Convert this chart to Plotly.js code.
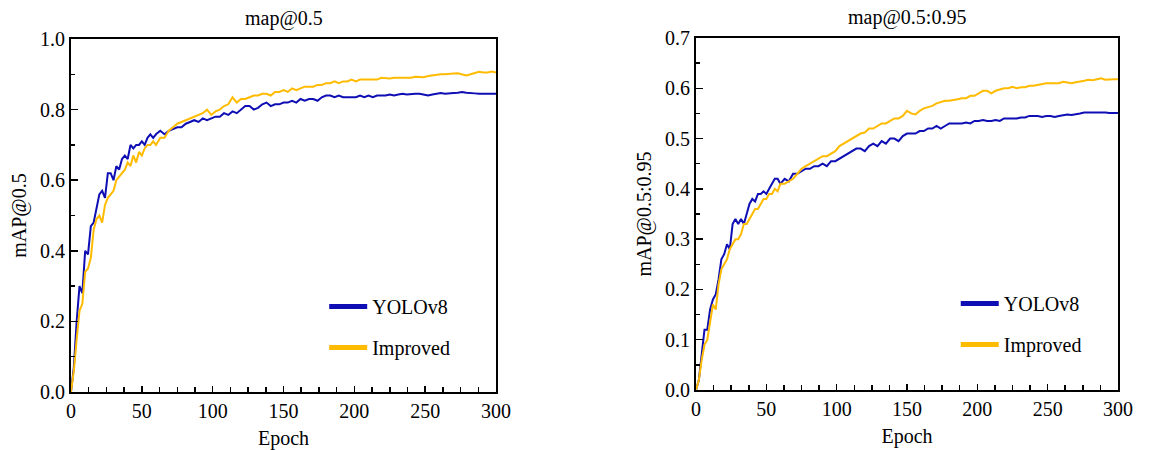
<!DOCTYPE html>
<html>
<head>
<meta charset="utf-8">
<script src="https://cdn.plot.ly/plotly-3.0.1.min.js"></script>
<style>html,body{margin:0;padding:0;background:#fff;}#chart{width:1162px;height:450px;}</style>
</head>
<body>
<div id="chart"></div>
<script>
// Epochs
const epochs = [0,2,4,6,8,10,12,14,16,18,20,22,24,26,28,30,32,34,36,38,40,42,44,46,48,50,52,54,56,58,60,
  63,66,69,72,75,78,81,84,87,90,93,96,99,102,105,108,111,114,117,120,123,126,129,132,135,138,141,144,147,150,
  153,156,159,162,165,168,171,174,177,180,183,186,189,192,195,198,201,204,207,210,213,216,219,222,225,228,
  231,234,237,240,243,246,249,252,255,258,261,264,267,270,273,276,279,282,285,288,291,294,297,300];

// mAP@0.5
const map50_yolo = [0,0.07,0.20,0.30,0.28,0.40,0.39,0.47,0.48,0.52,0.56,0.57,0.55,0.62,0.62,0.60,0.64,0.63,0.66,0.67,0.66,0.70,0.69,0.70,0.70,0.71,0.70,0.72,0.73,0.72,0.73,
  0.74,0.73,0.74,0.745,0.75,0.75,0.76,0.765,0.77,0.765,0.775,0.77,0.775,0.78,0.78,0.79,0.785,0.795,0.79,0.80,
  0.81,0.81,0.80,0.805,0.815,0.82,0.81,0.815,0.815,0.82,0.82,0.825,0.82,0.83,0.825,0.83,0.83,0.825,0.835,0.84,
  0.84,0.835,0.84,0.835,0.835,0.835,0.835,0.84,0.835,0.84,0.835,0.84,0.84,0.84,0.843,0.84,0.843,0.845,0.843,0.845,
  0.845,0.845,0.843,0.84,0.843,0.845,0.847,0.845,0.845,0.847,0.848,0.85,0.848,0.846,0.846,0.845,0.845,0.845,0.845,0.845];
const map50_impr = [0,0.06,0.15,0.23,0.25,0.34,0.35,0.38,0.46,0.49,0.50,0.48,0.53,0.55,0.56,0.57,0.60,0.61,0.62,0.63,0.65,0.64,0.67,0.65,0.68,0.67,0.69,0.70,0.70,0.71,0.70,
  0.72,0.72,0.74,0.75,0.76,0.765,0.77,0.775,0.78,0.785,0.79,0.80,0.785,0.795,0.80,0.81,0.815,0.835,0.82,0.83,
  0.83,0.835,0.84,0.84,0.845,0.845,0.84,0.85,0.85,0.855,0.85,0.86,0.855,0.86,0.865,0.865,0.865,0.87,0.87,0.875,
  0.875,0.88,0.875,0.88,0.88,0.885,0.88,0.885,0.885,0.885,0.885,0.885,0.89,0.888,0.888,0.89,0.89,0.89,0.892,0.89,
  0.893,0.893,0.892,0.895,0.897,0.90,0.90,0.90,0.902,0.902,0.903,0.90,0.897,0.90,0.903,0.907,0.905,0.905,0.908,0.905];

// mAP@0.5:0.95
const map5095_yolo = [0,0.02,0.07,0.12,0.12,0.16,0.18,0.19,0.22,0.26,0.27,0.29,0.28,0.33,0.34,0.33,0.34,0.33,0.35,0.37,0.38,0.375,0.39,0.39,0.395,0.39,0.40,0.41,0.42,0.42,0.41,
  0.42,0.415,0.43,0.43,0.435,0.44,0.44,0.445,0.445,0.45,0.445,0.455,0.455,0.46,0.465,0.47,0.475,0.48,0.48,0.475,
  0.485,0.49,0.485,0.495,0.49,0.50,0.50,0.495,0.505,0.51,0.51,0.51,0.515,0.515,0.52,0.52,0.525,0.52,0.525,0.53,
  0.53,0.53,0.53,0.532,0.53,0.535,0.535,0.537,0.535,0.535,0.537,0.535,0.54,0.54,0.54,0.54,0.542,0.542,0.545,0.545,
  0.545,0.543,0.545,0.545,0.543,0.545,0.547,0.548,0.547,0.548,0.55,0.552,0.552,0.552,0.553,0.553,0.552,0.551,0.551,0.551];
const map5095_impr = [0,0.02,0.06,0.09,0.10,0.14,0.17,0.16,0.21,0.24,0.25,0.26,0.28,0.29,0.30,0.30,0.31,0.33,0.33,0.34,0.35,0.36,0.36,0.37,0.38,0.38,0.39,0.39,0.40,0.395,0.41,
  0.41,0.415,0.42,0.43,0.44,0.445,0.45,0.455,0.46,0.465,0.465,0.47,0.475,0.485,0.49,0.495,0.50,0.505,0.51,0.512,
  0.52,0.52,0.525,0.53,0.53,0.535,0.54,0.54,0.545,0.555,0.55,0.548,0.555,0.56,0.562,0.565,0.57,0.572,0.575,0.575,
  0.576,0.578,0.58,0.58,0.585,0.585,0.59,0.595,0.595,0.59,0.595,0.597,0.60,0.60,0.603,0.60,0.602,0.602,0.605,0.605,
  0.607,0.608,0.61,0.61,0.61,0.61,0.613,0.612,0.61,0.612,0.613,0.615,0.617,0.616,0.618,0.62,0.617,0.618,0.618,0.618];

const seriesNames = ['YOLOv8', 'Improved'];
const colors = ['#0e0eb4', '#ffbb00'];
const panelTitles = ['map@0.5', 'map@0.5:0.95'];
const yTitles = ['mAP@0.5', 'mAP@0.5:0.95'];

const FONT = 'Liberation Serif, Times New Roman, serif';

function line(y, i, xa, ya) {
  return {x: epochs, y: y, type: 'scatter', mode: 'lines', xaxis: xa, yaxis: ya,
    line: {color: colors[i], width: 2}, showlegend: false, hoverinfo: 'skip'};
}
function legendItem(i, leg) {
  return {x: [null], y: [null], type: 'scatter', mode: 'lines', name: seriesNames[i],
    legend: leg, legendgroup: leg + i, line: {color: colors[i], width: 5}};
}

const data = [
  line(map50_yolo, 0, 'x', 'y'), line(map50_impr, 1, 'x', 'y'),
  line(map5095_yolo, 0, 'x2', 'y2'), line(map5095_impr, 1, 'x2', 'y2'),
  legendItem(0, 'legend'), legendItem(1, 'legend'),
  legendItem(0, 'legend2'), legendItem(1, 'legend2')
];

function xax(domain, anchor) {
  return {domain: domain, anchor: anchor, range: [0, 300], dtick: 50, tick0: 0,
    ticks: 'inside', ticklen: 6, tickwidth: 1.5, tickcolor: '#000',
    minor: {dtick: 12.5, ticks: 'inside', ticklen: 5, tickwidth: 1.5, tickcolor: '#000'},
    showline: true, linewidth: 2, linecolor: '#000', mirror: true, showgrid: false, zeroline: false,
    tickfont: {family: FONT, size: 20, color: '#000'},
    title: {text: 'Epoch', font: {family: FONT, size: 20, color: '#000'}, standoff: 10}};
}
function yax(domain, anchor, range, dtick, minor, title) {
  return {domain: domain, anchor: anchor, range: range, dtick: dtick, tick0: 0,
    tickformat: '.1f',
    ticks: 'inside', ticklen: 7, tickwidth: 1.5, tickcolor: '#000',
    minor: {dtick: minor, ticks: 'inside', ticklen: 4, tickwidth: 1.5, tickcolor: '#000'},
    showline: true, linewidth: 2, linecolor: '#000', mirror: true, showgrid: false, zeroline: false,
    tickfont: {family: FONT, size: 20, color: '#000'},
    title: {text: title, font: {family: FONT, size: 20, color: '#000'}, standoff: 8}};
}

const legendBase = {
  font: {family: FONT, size: 20, color: '#000'}, bgcolor: 'rgba(0,0,0,0)',
  itemwidth: 38, tracegroupgap: 12, xanchor: 'left', yanchor: 'top', itemclick: false, itemdoubleclick: false
};

const layout = {
  width: 1162, height: 450,
  margin: {l: 0, r: 0, t: 0, b: 0},
  paper_bgcolor: '#fff', plot_bgcolor: '#fff',
  font: {family: FONT, color: '#000'},
  xaxis: xax([0.0611, 0.4269], 'y'),
  yaxis: yax([0.1289, 0.9133], 'x', [0, 1.0], 0.2, 0.1, yTitles[0]),
  xaxis2: xax([0.599, 0.9621], 'y2'),
  yaxis2: yax([0.1333, 0.9156], 'x2', [0, 0.7], 0.1, 0.05, yTitles[1]),
  legend: Object.assign({}, legendBase, {x: 0.279, y: 0.362}),
  legend2: Object.assign({}, legendBase, {x: 0.8225, y: 0.369}),
  annotations: [
    {text: panelTitles[0], xref: 'paper', yref: 'paper', x: (0.0611 + 0.4269) / 2, y: 0.958,
     xanchor: 'center', yanchor: 'middle', showarrow: false, font: {family: FONT, size: 20, color: '#000'}},
    {text: panelTitles[1], xref: 'paper', yref: 'paper', x: (0.599 + 0.9621) / 2, y: 0.962,
     xanchor: 'center', yanchor: 'middle', showarrow: false, font: {family: FONT, size: 20, color: '#000'}}
  ]
};

Plotly.newPlot('chart', data, layout, {displayModeBar: false, staticPlot: true});
</script>
</body>
</html>
